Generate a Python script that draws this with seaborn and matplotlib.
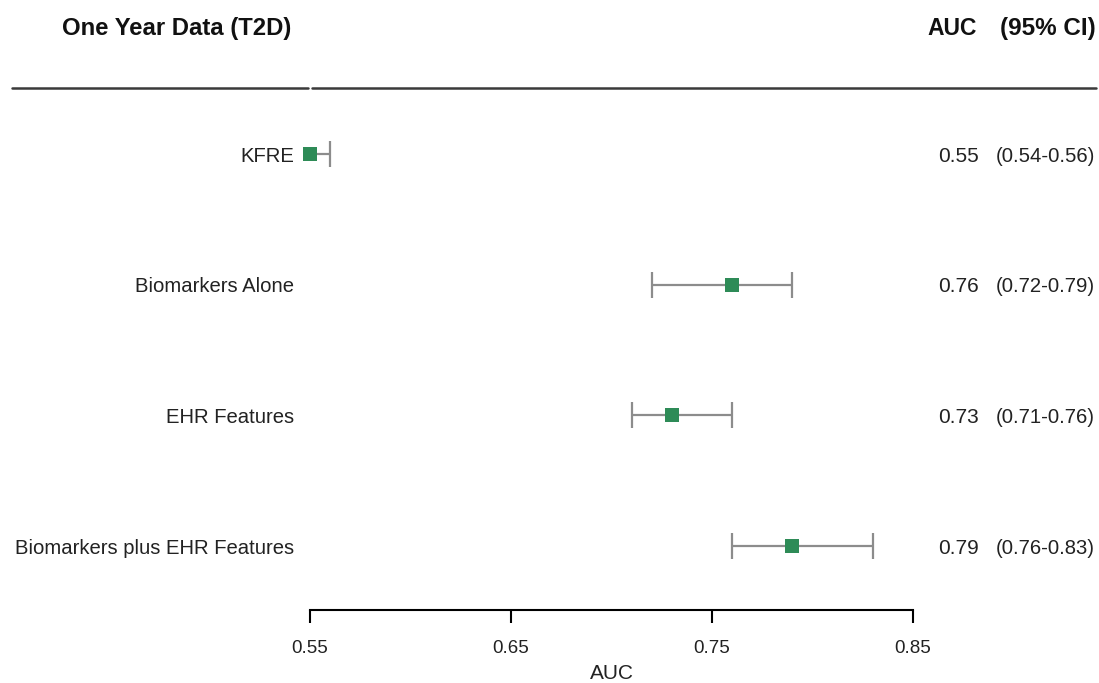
import matplotlib
matplotlib.use("Agg")
import matplotlib.pyplot as plt
import matplotlib.transforms as mtransforms
import seaborn as sns
import pandas as pd

# ---- data ----
models = ["KFRE", "Biomarkers Alone", "EHR Features", "Biomarkers plus EHR Features"]
auc = [0.55, 0.76, 0.73, 0.79]
ci_low = [0.54, 0.72, 0.71, 0.76]
ci_high = [0.56, 0.79, 0.76, 0.83]
auc_text = ["0.55", "0.76", "0.73", "0.79"]
ci_text = ["(0.54-0.56)", "(0.72-0.79)", "(0.71-0.76)", "(0.76-0.83)"]
xticks = [0.55, 0.65, 0.75, 0.85]
xtick_labels = ["0.55", "0.65", "0.75", "0.85"]

df = pd.DataFrame({"model": models, "auc": auc, "lo": ci_low, "hi": ci_high,
                   "row": list(range(len(models)))})

sns.set_theme(style="white")
plt.rcParams["font.family"] = ["Liberation Sans", "DejaVu Sans"]

W, H = 1099, 683
fig = plt.figure(figsize=(W / 100, H / 100), dpi=100)
ax_left, ax_right = 310 / W, 913 / W
ax_bottom = (H - 610) / H
ax = fig.add_axes([ax_left, ax_bottom, ax_right - ax_left, 1 - ax_bottom])

row_px0, row_step = 154, 130.67
def px_to_row(py):
    return (py - row_px0) / row_step

ax.set_xlim(0.55, 0.85)
ax.set_ylim(px_to_row(610), px_to_row(0))

green = "#2E8B57"
grey = "#8C8C8C"
txt = "#222222"

# error bars
ax.errorbar(df["auc"], df["row"],
            xerr=[df["auc"] - df["lo"], df["hi"] - df["auc"]],
            fmt="none", ecolor=grey, elinewidth=1.6, capsize=9.5, capthick=1.6,
            zorder=2)
# squares
sns.scatterplot(data=df, x="auc", y="row", marker="s", s=100, color=green,
                edgecolor=green, linewidth=0, ax=ax, zorder=3, clip_on=False,
                legend=False)

blend = mtransforms.blended_transform_factory(fig.transFigure, ax.transData)

for i, m in enumerate(models):
    ax.text(294 / W, i, m, transform=blend, ha="right", va="center_baseline",
            fontsize=14.6, color=txt)
    ax.text(979 / W, i, auc_text[i], transform=blend, ha="right",
            va="center_baseline", fontsize=15, color=txt)
    ax.text(1095 / W, i, ci_text[i], transform=blend, ha="right",
            va="center_baseline", fontsize=14.6, color=txt)

# headers
hy = px_to_row(35)
ax.text(62 / W, hy, "One Year Data (T2D)", transform=blend, ha="left",
        va="baseline", fontsize=17.2, fontweight="bold", color="#111111")
ax.text(977 / W, hy, "AUC", transform=blend, ha="right", va="baseline",
        fontsize=16.5, fontweight="bold", color="#111111")
ax.text(1096 / W, hy, "(95% CI)", transform=blend, ha="right", va="baseline",
        fontsize=17.5, fontweight="bold", color="#111111")

# header rule (two segments)
ly = px_to_row(88)
ax.plot([12 / W, 308 / W], [ly, ly], transform=blend, color="#3a3a3a",
        lw=1.8, clip_on=False)
ax.plot([312 / W, 1096 / W], [ly, ly], transform=blend, color="#3a3a3a",
        lw=1.8, clip_on=False)

# axes styling
for s in ["top", "left", "right"]:
    ax.spines[s].set_visible(False)
ax.spines["bottom"].set_bounds(0.55, 0.85)
ax.spines["bottom"].set_linewidth(1.5)
ax.spines["bottom"].set_color("black")
ax.set_yticks([])
ax.set_ylabel("")
ax.set_xticks(xticks)
ax.set_xticklabels(xtick_labels)
ax.tick_params(axis="x", direction="out", length=9.5, width=1.5, color="black",
               labelsize=13.5, pad=12, labelcolor=txt, bottom=True)
ax.set_xlabel("AUC", fontsize=15, color=txt, labelpad=5)
ax.patch.set_alpha(0)

fig.savefig("out.png", dpi=100)
